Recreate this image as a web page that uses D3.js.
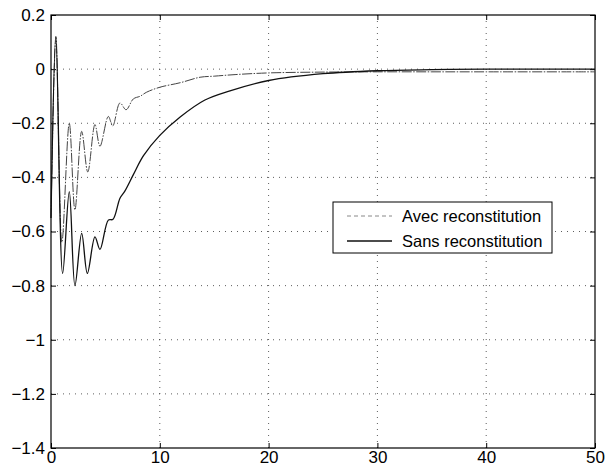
<!DOCTYPE html>
<html>
<head>
<meta charset="utf-8">
<script src="https://cdn.jsdelivr.net/npm/d3@7"></script>
<style>
  body { margin: 0; background: #fff; }
  text { font-family: "Liberation Sans", Arial, sans-serif; fill: #000; }
</style>
</head>
<body>
<script>
// series
var xAvec = [0, 0.45, 1.0, 1.68, 2.2, 2.82, 3.38, 4.04, 4.5, 5.27, 5.67, 6.34, 6.9, 7.57, 8.2, 8.8, 10, 11.9, 13.7, 15, 17, 20, 25, 30, 35, 40, 50];
var yAvec = [-0.55, 0.12, -0.64, -0.20, -0.52, -0.23, -0.38, -0.205, -0.285, -0.175, -0.21, -0.125, -0.15, -0.11, -0.10, -0.085, -0.067, -0.05, -0.03, -0.026, -0.02, -0.014, -0.011, -0.01, -0.01, -0.01, -0.01];
var xSans = [0, 0.45, 1.07, 1.68, 2.2, 2.82, 3.34, 4.04, 4.5, 5.27, 5.7, 6.34, 6.8, 7.57, 8.5, 10, 11.9, 14.15, 16.45, 20, 25, 30, 35, 40, 50];
var ySans = [-0.55, 0.12, -0.755, -0.453, -0.80, -0.607, -0.755, -0.62, -0.666, -0.558, -0.555, -0.477, -0.45, -0.39, -0.32, -0.245, -0.176, -0.114, -0.08, -0.042, -0.017, -0.006, -0.002, 0, 0];
var xTicks = [0, 10, 20, 30, 40, 50];
var yTicks = [0.2, 0, -0.2, -0.4, -0.6, -0.8, -1, -1.2, -1.4];
var legendLabels = ["Avec reconstitution", "Sans reconstitution"];

var margin = {top: 15, right: 11, bottom: 24, left: 51},
    width = 606 - margin.left - margin.right,
    height = 472 - margin.top - margin.bottom;

var x = d3.scaleLinear().domain([0, 50]).range([0, width]);
var y = d3.scaleLinear().domain([-1.4, 0.2]).range([height, 0]);

var svg = d3.select("body").append("svg")
    .attr("width", 606)
    .attr("height", 472)
  .append("g")
    .attr("transform", "translate(" + margin.left + "," + margin.top + ")");

// dotted grid
svg.selectAll(".gx").data(xTicks.slice(1, -1)).enter().append("line")
    .attr("x1", d => x(d)).attr("x2", d => x(d))
    .attr("y1", 0).attr("y2", height)
    .attr("stroke", "#333").attr("stroke-width", 0.8)
    .attr("stroke-dasharray", "1,5");
svg.selectAll(".gy").data(yTicks.slice(1, -1)).enter().append("line")
    .attr("x1", 0).attr("x2", width)
    .attr("y1", d => y(d)).attr("y2", d => y(d))
    .attr("stroke", "#333").attr("stroke-width", 0.8)
    .attr("stroke-dasharray", "1,5");

// axes, ticks pointing inward
var fmt = d3.format("");
svg.append("g")
    .attr("transform", "translate(0," + height + ")")
    .call(d3.axisBottom(x).tickValues(xTicks).tickSize(-5).tickPadding(3).tickFormat(fmt))
    .call(g => g.select(".domain").remove())
    .call(g => g.selectAll("text").style("font-size", "17px").style("font-family", "Liberation Sans, Arial, sans-serif"));
svg.append("g")
    .call(d3.axisLeft(y).tickValues(yTicks).tickSize(-5).tickPadding(6).tickFormat(fmt))
    .call(g => g.select(".domain").remove())
    .call(g => g.selectAll("text").style("font-size", "17px").style("font-family", "Liberation Sans, Arial, sans-serif"));
svg.append("g")
    .call(d3.axisTop(x).tickValues(xTicks).tickSize(-5).tickFormat(""))
    .call(g => g.select(".domain").remove());
svg.append("g")
    .attr("transform", "translate(" + width + ",0)")
    .call(d3.axisRight(y).tickValues(yTicks).tickSize(-5).tickFormat(""))
    .call(g => g.select(".domain").remove());

svg.append("rect")
    .attr("width", width).attr("height", height)
    .attr("fill", "none").attr("stroke", "#000").attr("stroke-width", 1.2);

var line = d3.line().curve(d3.curveCatmullRom.alpha(0.5))
    .x(d => x(d[0])).y(d => y(d[1]));

svg.append("path")
    .datum(d3.zip(xAvec, yAvec))
    .attr("d", line)
    .attr("fill", "none").attr("stroke", "#444").attr("stroke-width", 1)
    .attr("stroke-dasharray", "10,1.5,1.5,1.5");

svg.append("path")
    .datum(d3.zip(xSans, ySans))
    .attr("d", line)
    .attr("fill", "none").attr("stroke", "#111").attr("stroke-width", 1.3);

// legend
var lg = svg.append("g").attr("transform", "translate(" + (333 - margin.left) + "," + (202 - margin.top) + ")");
lg.append("rect").attr("width", 219).attr("height", 51)
    .attr("fill", "#fff").attr("stroke", "#000").attr("stroke-width", 1);
lg.selectAll(".row").data(legendLabels).enter().append("g")
    .attr("transform", (d, i) => "translate(0," + (14 + i * 25) + ")")
    .each(function(d, i) {
      var g = d3.select(this);
      g.append("line").attr("x1", 14).attr("x2", 59)
        .attr("stroke", i === 0 ? "#888" : "#111")
        .attr("stroke-width", i === 0 ? 1 : 1.3)
        .attr("stroke-dasharray", i === 0 ? "4,3" : null);
      g.append("text").attr("x", 69).attr("dy", "0.35em")
        .style("font-size", "16.5px").text(d);
    });
</script>
</body>
</html>
